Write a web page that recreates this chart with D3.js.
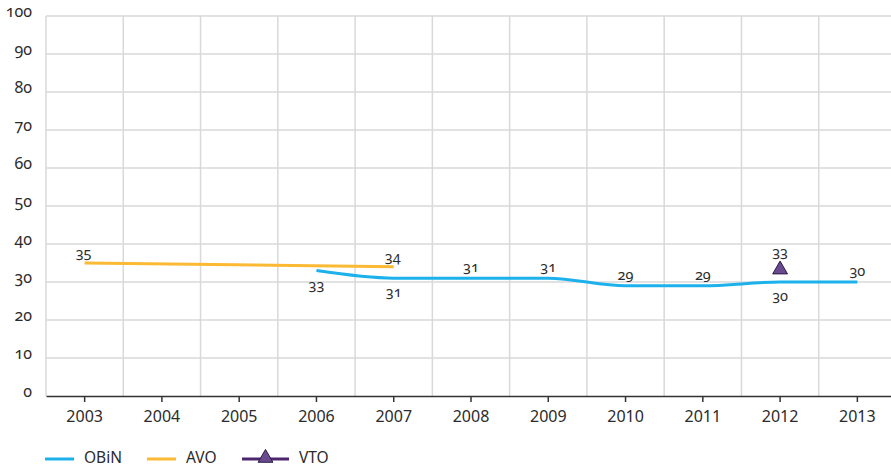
<!DOCTYPE html>
<html lang="nl">
<head>
<meta charset="UTF-8">
<title>OBiN AVO VTO</title>
<script src="https://cdn.jsdelivr.net/npm/d3@7"></script>
<style>
    body { margin: 0; background: #fff; }
    svg text { font-family: "Noto Sans", "Open Sans", sans-serif; fill: #2b2b2b; }
    .onum { font-feature-settings: "onum"; font-variant-numeric: oldstyle-nums; }
    .grid line { stroke: #d9d9d9; stroke-width: 1.5; }
</style>
</head>
<body>
<div class="chart"></div>
<script>
var years = [2003, 2004, 2005, 2006, 2007, 2008, 2009, 2010, 2011, 2012, 2013];
var obin  = [null, null, null, 33, 31, 31, 31, 29, 29, 30, 30];
var avo   = [35, null, null, null, 34, null, null, null, null, null, null];
var vto   = [null, null, null, null, null, null, null, null, null, 33, null];
// label above (-1) or below (1) the point
var obinLabelSide = [0, 0, 0, 1, 1, -1, -1, -1, -1, 1, -1];
var yTicks = [0, 10, 20, 30, 40, 50, 60, 70, 80, 90, 100];

var colors = { obin: "#1db1ec", avo: "#fbb934", vto: "#6a4a8e", vtoStroke: "#2b1a45", vtoLine: "#4e2670" };

var width = 891, height = 467;
var margin = { top: 16, right: -5, bottom: 71, left: 46 };

var svg = d3.select(".chart").append("svg")
    .attr("width", width)
    .attr("height", height);

var x = d3.scaleBand()
    .domain(years)
    .range([margin.left, width - margin.right]);

var y = d3.scaleLinear()
    .domain([0, 100])
    .range([height - margin.bottom, margin.top]);

var cx = function(yr) { return x(yr) + x.bandwidth() / 2; };

// grid
var grid = svg.append("g").attr("class", "grid");
grid.selectAll("line.h").data(yTicks.slice(1)).enter().append("line")
    .attr("x1", margin.left).attr("x2", width)
    .attr("y1", function(d) { return y(d); }).attr("y2", function(d) { return y(d); });
grid.selectAll("line.v").data(years).enter().append("line")
    .attr("x1", function(d) { return x(d); }).attr("x2", function(d) { return x(d); })
    .attr("y1", y(100)).attr("y2", y(0));

// y labels
svg.append("g").selectAll("text").data(yTicks).enter().append("text")
    .attr("class", "onum")
    .attr("x", 32)
    .attr("y", function(d) { return y(d) + 1; })
    .attr("text-anchor", "end")
    .style("font-size", "16px")
    .text(function(d) { return d; });

// x axis
var xAxis = svg.append("g")
    .attr("transform", "translate(0," + y(0) + ")")
    .call(d3.axisBottom(x).tickSize(6).tickSizeOuter(0).tickPadding(9));
xAxis.select(".domain").attr("stroke", "#333").attr("stroke-width", 1.5);
xAxis.selectAll(".tick line").attr("stroke", "#333").attr("stroke-width", 1.5);
xAxis.selectAll(".tick text").style("font-size", "16px").attr("fill", "#2b2b2b")
    .style("font-family", "'Noto Sans', sans-serif");

// lines
function points(vals) {
    return years.map(function(yr, i) { return { year: yr, v: vals[i], i: i }; })
        .filter(function(d) { return d.v !== null; });
}

var line = d3.line()
    .x(function(d) { return cx(d.year); })
    .y(function(d) { return y(d.v); })
    .curve(d3.curveMonotoneX);

svg.append("path").datum(points(avo))
    .attr("fill", "none").attr("stroke", colors.avo).attr("stroke-width", 3)
    .attr("d", d3.line().x(function(d) { return cx(d.year); }).y(function(d) { return y(d.v); }));

svg.append("path").datum(points(obin))
    .attr("fill", "none").attr("stroke", colors.obin).attr("stroke-width", 3)
    .attr("d", line);

var tri = d3.symbol().type(d3.symbolTriangle).size(95);
svg.selectAll("path.vto").data(points(vto)).enter().append("path")
    .attr("class", "vto")
    .attr("transform", function(d) { return "translate(" + cx(d.year) + "," + (y(d.v) - 1) + ")"; })
    .attr("d", tri)
    .attr("fill", colors.vto).attr("stroke", colors.vtoStroke).attr("stroke-width", 1);

// data labels
var labels = svg.append("g").style("font-size", "14.5px");
labels.selectAll("text.avo").data(points(avo)).enter().append("text")
    .attr("class", "onum")
    .attr("x", function(d) { return cx(d.year) - 1; })
    .attr("y", function(d) { return y(d.v) - 5; })
    .attr("text-anchor", "middle")
    .text(function(d) { return d.v; });
labels.selectAll("text.obin").data(points(obin)).enter().append("text")
    .attr("class", "onum")
    .attr("x", function(d) { return cx(d.year); })
    .attr("y", function(d) { return obinLabelSide[d.i] > 0 ? y(d.v) + 19 : y(d.v) - 6; })
    .attr("text-anchor", "middle")
    .text(function(d) { return d.v; });
labels.selectAll("text.vto").data(points(vto)).enter().append("text")
    .attr("class", "onum")
    .attr("x", function(d) { return cx(d.year); })
    .attr("y", function(d) { return y(d.v) - 14; })
    .attr("text-anchor", "middle")
    .text(function(d) { return d.v; });

// legend
var legendItems = [
    { name: "OBiN", x: 45, w: 29, color: colors.obin, symbol: false },
    { name: "AVO", x: 147, w: 29, color: colors.avo, symbol: false },
    { name: "VTO", x: 242, w: 47, color: colors.vtoLine, symbol: true }
];
var legend = svg.append("g").attr("transform", "translate(0,459)");
legendItems.forEach(function(it) {
    legend.append("line")
        .attr("x1", it.x).attr("x2", it.x + it.w)
        .attr("stroke", it.color).attr("stroke-width", 3);
    if (it.symbol) {
        legend.append("path")
            .attr("transform", "translate(" + (it.x + it.w / 2) + ",-1)")
            .attr("d", tri)
            .attr("fill", colors.vto).attr("stroke", colors.vtoStroke).attr("stroke-width", 1);
    }
    legend.append("text")
        .attr("x", it.x + it.w + 10)
        .attr("y", 4)
        .style("font-size", "15.5px")
        .text(it.name);
});
</script>
</body>
</html>
